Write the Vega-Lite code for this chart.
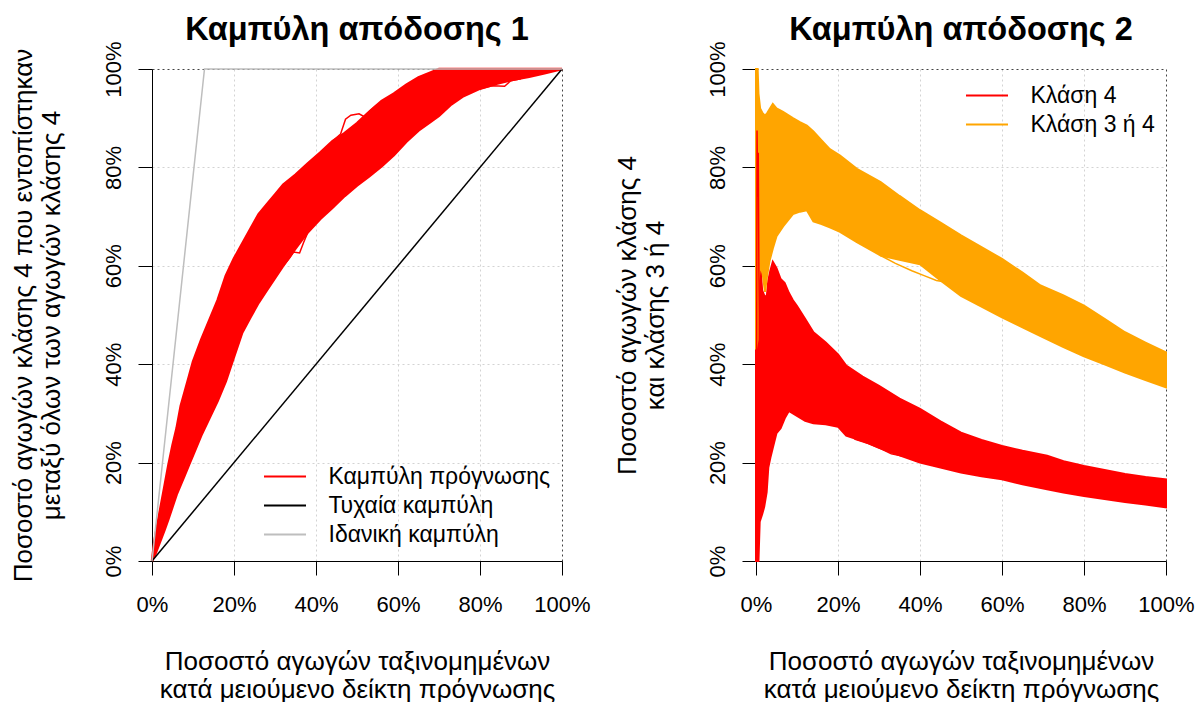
{
  "$schema": "https://vega.github.io/schema/vega-lite/v6.json",
  "background": "white",
  "padding": {"left": 9, "top": 14, "right": 5, "bottom": 12},
  "spacing": 194,
  "bounds": "flush",
  "config": {
    "font": "Liberation Sans",
    "view": {"stroke": null},
    "axis": {
      "domainColor": "#000000",
      "domainWidth": 1,
      "tickColor": "#000000",
      "tickSize": 14,
      "tickWidth": 1,
      "labelFont": "Liberation Sans",
      "labelFontSize": 22,
      "labelColor": "#000000",
      "labelFlush": false,
      "labelOverlap": false,
      "titleFont": "Liberation Sans",
      "titleFontSize": 26,
      "titleFontWeight": "normal",
      "titleColor": "#000000",
      "titleLineHeight": 28,
      "gridDash": [2, 3],
      "gridWidth": 1
    },
    "axisX": {"labelAngle": 0, "labelPadding": 19, "titlePadding": 33},
    "axisY": {"labelAngle": -90, "labelAlign": "center", "labelBaseline": "alphabetic", "labelPadding": 18, "titlePadding": 38},
    "legend": {
      "title": null,
      "labelFont": "Liberation Sans",
      "labelFontSize": 23,
      "labelColor": "#000000",
      "labelLimit": 400,
      "symbolType": "M-2,0H2",
      "symbolSize": 441,
      "symbolStrokeWidth": 2,
      "labelOffset": 32,
      "rowPadding": 5,
      "padding": 0
    },
    "title": {
      "font": "Liberation Sans",
      "fontSize": 32.5,
      "fontWeight": "bold",
      "color": "#000000",
      "frame": "group",
      "anchor": "middle",
      "baseline": "alphabetic",
      "offset": -6
    }
  },
  "datasets": {
    "left_band": [
      {"x": 0, "lo": 0, "hi": 0},
      {"x": 0.5, "lo": 0.8, "hi": 3.5},
      {"x": 1, "lo": 1.8, "hi": 6},
      {"x": 2, "lo": 4, "hi": 10.5},
      {"x": 3, "lo": 6.2, "hi": 15},
      {"x": 4, "lo": 8.5, "hi": 19.5},
      {"x": 5, "lo": 11, "hi": 23.5},
      {"x": 6, "lo": 13.5, "hi": 27},
      {"x": 7, "lo": 15.5, "hi": 31.5},
      {"x": 8, "lo": 17.5, "hi": 34.5},
      {"x": 9, "lo": 19.5, "hi": 37.5},
      {"x": 10, "lo": 21.5, "hi": 40.5},
      {"x": 12, "lo": 25.5, "hi": 45},
      {"x": 14, "lo": 29, "hi": 49},
      {"x": 16, "lo": 32.5, "hi": 53},
      {"x": 18, "lo": 36.5, "hi": 58},
      {"x": 20, "lo": 41.5, "hi": 61.5},
      {"x": 22, "lo": 46.4, "hi": 64.5},
      {"x": 24, "lo": 49.5, "hi": 67.5},
      {"x": 26, "lo": 52.5, "hi": 70.5},
      {"x": 28, "lo": 55, "hi": 72.5},
      {"x": 30, "lo": 57.5, "hi": 74.5},
      {"x": 32, "lo": 60, "hi": 76.5},
      {"x": 35, "lo": 63.5, "hi": 78.5},
      {"x": 38, "lo": 66.8, "hi": 80.8},
      {"x": 41, "lo": 69.5, "hi": 83},
      {"x": 44, "lo": 71.8, "hi": 85.3},
      {"x": 47, "lo": 74.2, "hi": 87},
      {"x": 50, "lo": 76.3, "hi": 89},
      {"x": 53, "lo": 78.2, "hi": 91.3},
      {"x": 56, "lo": 80.2, "hi": 93.5},
      {"x": 59, "lo": 82.5, "hi": 95},
      {"x": 62, "lo": 85.2, "hi": 96.8},
      {"x": 65, "lo": 87.5, "hi": 98.3},
      {"x": 68, "lo": 89.3, "hi": 99.3},
      {"x": 70, "lo": 90.5, "hi": 100},
      {"x": 73, "lo": 92.8, "hi": 100},
      {"x": 76, "lo": 94.5, "hi": 100},
      {"x": 80, "lo": 96, "hi": 100},
      {"x": 84, "lo": 97, "hi": 100},
      {"x": 88, "lo": 97.8, "hi": 100},
      {"x": 92, "lo": 98.4, "hi": 100},
      {"x": 96, "lo": 99.2, "hi": 100},
      {"x": 100, "lo": 100, "hi": 100}
    ],
    "left_lines": [
      {"id": "rand", "series": "Τυχαία καμπύλη", "x": 0, "y": 0},
      {"id": "rand", "series": "Τυχαία καμπύλη", "x": 100, "y": 100},
      {"id": "ideal", "series": "Ιδανική καμπύλη", "x": 0, "y": 0},
      {"id": "ideal", "series": "Ιδανική καμπύλη", "x": 12.8, "y": 100},
      {"id": "ideal", "series": "Ιδανική καμπύλη", "x": 100, "y": 100},
      {"id": "p1", "series": "Καμπύλη πρόγνωσης", "x": 44, "y": 85.3},
      {"id": "p1", "series": "Καμπύλη πρόγνωσης", "x": 46, "y": 86.8},
      {"id": "p1", "series": "Καμπύλη πρόγνωσης", "x": 47.2, "y": 89.8},
      {"id": "p1", "series": "Καμπύλη πρόγνωσης", "x": 48.5, "y": 90.6},
      {"id": "p1", "series": "Καμπύλη πρόγνωσης", "x": 50.5, "y": 90.9},
      {"id": "p1", "series": "Καμπύλη πρόγνωσης", "x": 52, "y": 90.2},
      {"id": "p1", "series": "Καμπύλη πρόγνωσης", "x": 53.2, "y": 91.5},
      {"id": "p1", "series": "Καμπύλη πρόγνωσης", "x": 55, "y": 92.8},
      {"id": "p2", "series": "Καμπύλη πρόγνωσης", "x": 32, "y": 60},
      {"id": "p2", "series": "Καμπύλη πρόγνωσης", "x": 33.5, "y": 61.5},
      {"id": "p2", "series": "Καμπύλη πρόγνωσης", "x": 34.5, "y": 62.8},
      {"id": "p2", "series": "Καμπύλη πρόγνωσης", "x": 36, "y": 62.6},
      {"id": "p2", "series": "Καμπύλη πρόγνωσης", "x": 37, "y": 64.8},
      {"id": "p2", "series": "Καμπύλη πρόγνωσης", "x": 38, "y": 66.8},
      {"id": "p3", "series": "Καμπύλη πρόγνωσης", "x": 80, "y": 96},
      {"id": "p3", "series": "Καμπύλη πρόγνωσης", "x": 83, "y": 96.6},
      {"id": "p3", "series": "Καμπύλη πρόγνωσης", "x": 86, "y": 96.5},
      {"id": "p3", "series": "Καμπύλη πρόγνωσης", "x": 87.5, "y": 97.6},
      {"id": "p3", "series": "Καμπύλη πρόγνωσης", "x": 90, "y": 98}
    ],
    "right_red": [
      {"x": 0, "lo": 0, "hi": 43},
      {"x": 0.3, "lo": 0, "hi": 87.5},
      {"x": 0.6, "lo": 0, "hi": 80},
      {"x": 0.9, "lo": 8, "hi": 62},
      {"x": 1.5, "lo": 9.5, "hi": 55},
      {"x": 2, "lo": 11, "hi": 54},
      {"x": 2.6, "lo": 14, "hi": 53.5},
      {"x": 3, "lo": 19, "hi": 57},
      {"x": 3.5, "lo": 21, "hi": 59},
      {"x": 4.1, "lo": 23, "hi": 60.8},
      {"x": 5, "lo": 26, "hi": 59.5},
      {"x": 6, "lo": 27, "hi": 57.3},
      {"x": 7, "lo": 29, "hi": 56.5},
      {"x": 8, "lo": 30.5, "hi": 54.5},
      {"x": 9, "lo": 30, "hi": 53},
      {"x": 10, "lo": 29.5, "hi": 51.8},
      {"x": 12, "lo": 28.5, "hi": 49.2},
      {"x": 14, "lo": 28, "hi": 46.5},
      {"x": 17, "lo": 27.8, "hi": 44.4},
      {"x": 20, "lo": 27.3, "hi": 42},
      {"x": 22, "lo": 25.5, "hi": 39.7},
      {"x": 26, "lo": 24.4, "hi": 37.5},
      {"x": 30, "lo": 23, "hi": 35.6},
      {"x": 35, "lo": 21.5, "hi": 33},
      {"x": 40, "lo": 20, "hi": 30.9},
      {"x": 45, "lo": 19, "hi": 28.4},
      {"x": 50, "lo": 18, "hi": 26.1},
      {"x": 55, "lo": 17.2, "hi": 24.6},
      {"x": 60, "lo": 16.6, "hi": 23.4},
      {"x": 65, "lo": 15.6, "hi": 22.4},
      {"x": 71, "lo": 14.6, "hi": 21.4},
      {"x": 75, "lo": 13.9, "hi": 20.3},
      {"x": 80, "lo": 13.2, "hi": 19.3},
      {"x": 85, "lo": 12.6, "hi": 18.5},
      {"x": 90, "lo": 12, "hi": 17.7},
      {"x": 95, "lo": 11.5, "hi": 17.1},
      {"x": 100, "lo": 10.9, "hi": 16.6}
    ],
    "right_orange": [
      {"x": 0, "lo": 43, "hi": 100},
      {"x": 0.4, "lo": 45, "hi": 100},
      {"x": 0.6, "lo": 57, "hi": 95},
      {"x": 1, "lo": 60, "hi": 92},
      {"x": 1.6, "lo": 58.5, "hi": 91},
      {"x": 2.2, "lo": 54.7, "hi": 90.5},
      {"x": 2.7, "lo": 58, "hi": 91},
      {"x": 3.3, "lo": 61, "hi": 91.8},
      {"x": 4.1, "lo": 63.5, "hi": 92.9},
      {"x": 5, "lo": 66, "hi": 92},
      {"x": 6.6, "lo": 68, "hi": 91.3},
      {"x": 9, "lo": 70.5, "hi": 90},
      {"x": 10.7, "lo": 71, "hi": 89.2},
      {"x": 12.4, "lo": 71.3, "hi": 88.5},
      {"x": 14, "lo": 69, "hi": 87.3},
      {"x": 16, "lo": 68.5, "hi": 85.5},
      {"x": 18, "lo": 67.8, "hi": 83.7},
      {"x": 20.5, "lo": 66.9, "hi": 82.4},
      {"x": 24.6, "lo": 64.8, "hi": 79.7},
      {"x": 30.4, "lo": 62.1, "hi": 77},
      {"x": 35, "lo": 61.2, "hi": 74.2},
      {"x": 40, "lo": 60.3, "hi": 71.3},
      {"x": 45, "lo": 57, "hi": 68.8},
      {"x": 50, "lo": 53.9, "hi": 66.2},
      {"x": 55, "lo": 51.7, "hi": 63.8},
      {"x": 60, "lo": 49.5, "hi": 61.4},
      {"x": 65, "lo": 47.5, "hi": 58.6},
      {"x": 69.4, "lo": 45.7, "hi": 56},
      {"x": 75, "lo": 43.5, "hi": 54},
      {"x": 80, "lo": 41.6, "hi": 51.9},
      {"x": 85, "lo": 40, "hi": 49.2},
      {"x": 90, "lo": 38.3, "hi": 46.5},
      {"x": 95, "lo": 36.8, "hi": 44.4},
      {"x": 100, "lo": 35.3, "hi": 42.4}
    ],
    "right_lines": [
      {"id": "o1", "series": "Κλάση 3 ή 4", "x": 30.4, "y": 62.1},
      {"id": "o1", "series": "Κλάση 3 ή 4", "x": 34, "y": 60.5},
      {"id": "o1", "series": "Κλάση 3 ή 4", "x": 38, "y": 59},
      {"id": "o1", "series": "Κλάση 3 ή 4", "x": 41, "y": 58},
      {"id": "o1", "series": "Κλάση 3 ή 4", "x": 44, "y": 57},
      {"id": "o1", "series": "Κλάση 3 ή 4", "x": 47, "y": 56.6},
      {"id": "o1", "series": "Κλάση 3 ή 4", "x": 49, "y": 55.8},
      {"id": "o1", "series": "Κλάση 3 ή 4", "x": 51, "y": 54.2},
      {"id": "r1", "series": "Κλάση 4", "x": 24, "y": 24.8},
      {"id": "r1", "series": "Κλάση 4", "x": 27, "y": 24},
      {"id": "r1", "series": "Κλάση 4", "x": 30, "y": 23},
      {"id": "r1", "series": "Κλάση 4", "x": 33, "y": 21.8},
      {"id": "r1", "series": "Κλάση 4", "x": 36, "y": 21.3},
      {"id": "r1", "series": "Κλάση 4", "x": 38, "y": 20.8},
      {"id": "r1", "series": "Κλάση 4", "x": 40, "y": 20.1},
      {"id": "r2", "series": "Κλάση 4", "x": 0.1, "y": 0},
      {"id": "r2", "series": "Κλάση 4", "x": 0.25, "y": 87.5},
      {"id": "r2", "series": "Κλάση 4", "x": 0.4, "y": 74},
      {"id": "r2", "series": "Κλάση 4", "x": 0.55, "y": 83},
      {"id": "r2", "series": "Κλάση 4", "x": 0.7, "y": 60},
      {"id": "r2", "series": "Κλάση 4", "x": 0.9, "y": 40},
      {"id": "r2", "series": "Κλάση 4", "x": 1.1, "y": 10}
    ]
  },
  "hconcat": [
    {
      "width": 410,
      "height": 492,
      "title": {"text": "Καμπύλη απόδοσης 1"},
      "layer": [
        {
          "data": {"name": "left_band"},
          "mark": {"type": "area", "color": "#ff0000", "stroke": "#ff0000", "strokeWidth": 2.5, "opacity": 1},
          "encoding": {
            "x": {"field": "x", "type": "quantitative", "scale": {"domain": [0, 100], "nice": false, "zero": false},
              "axis": {"values": [0, 20, 40, 60, 80, 100], "labelExpr": "datum.value + '%'", "title": ["Ποσοστό αγωγών ταξινομημένων", "κατά μειούμενο δείκτη πρόγνωσης"],
                "gridColor": {"condition": {"test": "datum.value === 100", "value": "#444444"}, "value": "#d3d3d3"}}},
            "y": {"field": "lo", "type": "quantitative", "scale": {"domain": [0, 100], "nice": false, "zero": false},
              "axis": {"values": [0, 20, 40, 60, 80, 100], "labelExpr": "datum.value + '%'", "title": ["Ποσοστό αγωγών κλάσης 4 που εντοπίστηκαν", "μεταξύ όλων των αγωγών κλάσης 4"],
                "gridColor": {"condition": {"test": "datum.value === 100", "value": "#444444"}, "value": "#d3d3d3"}}},
            "y2": {"field": "hi"}
          }
        },
        {
          "data": {"name": "left_lines"},
          "mark": {"type": "line", "strokeWidth": 1.5},
          "encoding": {
            "x": {"field": "x", "type": "quantitative"},
            "y": {"field": "y", "type": "quantitative"},
            "detail": {"field": "id"},
            "color": {"field": "series", "type": "nominal",
              "scale": {"domain": ["Καμπύλη πρόγνωσης", "Τυχαία καμπύλη", "Ιδανική καμπύλη"], "range": ["#ff0000", "#000000", "#bebebe"]},
              "legend": {"orient": "none", "legendX": 121.5, "legendY": 396}}
          }
        }
      ]
    },
    {
      "width": 410,
      "height": 492,
      "title": {"text": "Καμπύλη απόδοσης 2"},
      "layer": [
        {
          "data": {"name": "right_red"},
          "mark": {"type": "area", "color": "#ff0000", "stroke": "#ff0000", "strokeWidth": 2, "opacity": 1},
          "encoding": {
            "x": {"field": "x", "type": "quantitative", "scale": {"domain": [0, 100], "nice": false, "zero": false},
              "axis": {"values": [0, 20, 40, 60, 80, 100], "labelExpr": "datum.value + '%'", "title": ["Ποσοστό αγωγών ταξινομημένων", "κατά μειούμενο δείκτη πρόγνωσης"],
                "gridColor": {"condition": {"test": "datum.value === 100", "value": "#444444"}, "value": "#d3d3d3"}}},
            "y": {"field": "lo", "type": "quantitative", "scale": {"domain": [0, 100], "nice": false, "zero": false},
              "axis": {"values": [0, 20, 40, 60, 80, 100], "labelExpr": "datum.value + '%'", "title": ["Ποσοστό αγωγών κλάσης 4", "και κλάσης 3 ή 4"],
                "gridColor": {"condition": {"test": "datum.value === 100", "value": "#444444"}, "value": "#d3d3d3"}}},
            "y2": {"field": "hi"}
          }
        },
        {
          "data": {"name": "right_orange"},
          "mark": {"type": "area", "color": "#ffa500", "stroke": "#ffa500", "strokeWidth": 2, "opacity": 1},
          "encoding": {
            "x": {"field": "x", "type": "quantitative"},
            "y": {"field": "lo", "type": "quantitative"},
            "y2": {"field": "hi"}
          }
        },
        {
          "data": {"name": "right_lines"},
          "mark": {"type": "line", "strokeWidth": 1.5},
          "encoding": {
            "x": {"field": "x", "type": "quantitative"},
            "y": {"field": "y", "type": "quantitative"},
            "detail": {"field": "id"},
            "color": {"field": "series", "type": "nominal",
              "scale": {"domain": ["Κλάση 4", "Κλάση 3 ή 4"], "range": ["#ff0000", "#ffa500"]},
              "legend": {"orient": "none", "legendX": 219.5, "legendY": 15}}
          }
        }
      ]
    }
  ],
  "resolve": {"scale": {"color": "independent", "x": "independent", "y": "independent"}, "legend": {"color": "independent"}}
}
